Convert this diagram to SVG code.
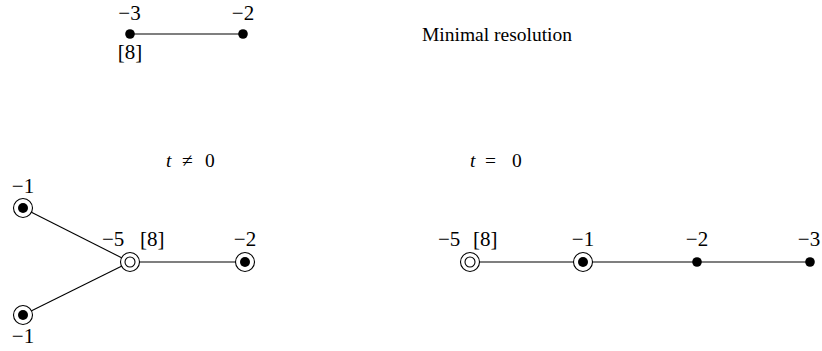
<svg xmlns="http://www.w3.org/2000/svg" width="822" height="351" viewBox="0 0 822 351">
<style>
text{font-family:"Liberation Serif","Times New Roman",serif;font-size:21px;fill:#000}
.m{text-anchor:middle}
.t{font-size:19.5px}
.e{stroke:#000;stroke-width:1.1;fill:none}
.oc{fill:#fff;stroke:#000;stroke-width:1.1}
.dot{fill:#000}
</style>
<rect width="822" height="351" fill="#fff"/>
<g id="connectors">
<line class="e" x1="130" y1="34" x2="243" y2="34"/>
<line class="e" x1="130" y1="262" x2="23" y2="208"/>
<line class="e" x1="130" y1="262" x2="23" y2="315"/>
<line class="e" x1="130" y1="262" x2="245" y2="262"/>
<line class="e" x1="470" y1="262" x2="810" y2="262"/>
</g>
<g id="top-a"><circle class="dot" cx="130" cy="34" r="4.8"/><text class="m" x="129.5" y="20">−3</text><text class="m" x="130" y="59">[8]</text></g>
<g id="top-b"><circle class="dot" cx="243" cy="34" r="4.8"/><text class="m" x="243" y="20">−2</text></g>
<text class="t" x="422" y="41">Minimal resolution</text>
<text class="t" x="166" y="167"><tspan font-style="italic">t</tspan><tspan x="182">≠</tspan><tspan x="205">0</tspan></text>
<text class="t" x="470" y="167"><tspan font-style="italic">t</tspan><tspan x="485">=</tspan><tspan x="512">0</tspan></text>
<g id="l-top"><circle class="oc" cx="23" cy="208" r="9.5"/><circle class="dot" cx="23" cy="208" r="5"/><text class="m" x="23" y="193">−1</text></g>
<g id="l-bot"><circle class="oc" cx="23" cy="315" r="9.5"/><circle class="dot" cx="23" cy="315" r="5"/><text class="m" x="23" y="343">−1</text></g>
<g id="l-center"><circle class="oc" cx="130" cy="262" r="9.5"/><circle class="oc" cx="130" cy="262" r="5"/><text x="102" y="246">−5</text><text x="140" y="246">[8]</text></g>
<g id="l-right"><circle class="oc" cx="245" cy="262" r="9.5"/><circle class="dot" cx="245" cy="262" r="5"/><text class="m" x="245" y="246">−2</text></g>
<g id="r-a"><circle class="oc" cx="470" cy="262" r="9.5"/><circle class="oc" cx="470" cy="262" r="5"/><text x="438" y="246">−5</text><text x="473" y="246">[8]</text></g>
<g id="r-b"><circle class="oc" cx="583" cy="262" r="9.5"/><circle class="dot" cx="583" cy="262" r="5"/><text class="m" x="583" y="246">−1</text></g>
<g id="r-c"><circle class="dot" cx="697" cy="262" r="4.8"/><text class="m" x="697" y="246">−2</text></g>
<g id="r-d"><circle class="dot" cx="810" cy="262" r="4.8"/><text class="m" x="809" y="246">−3</text></g>
</svg>
